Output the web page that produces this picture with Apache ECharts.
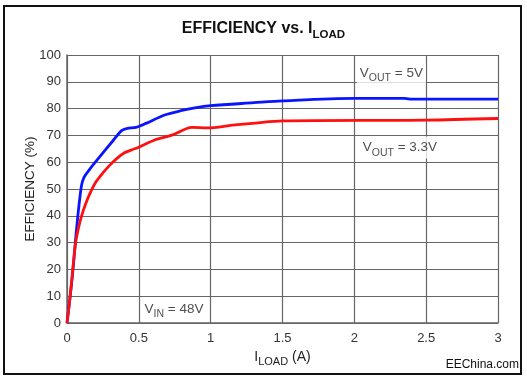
<!DOCTYPE html>
<html>
<head>
<meta charset="utf-8">
<script src="https://cdn.jsdelivr.net/npm/echarts@6/dist/echarts.min.js"></script>
<style>
  html, body { margin: 0; padding: 0; background: #fff; }
  #chart { width: 527px; height: 377px; }
</style>
</head>
<body>
<div id="chart"></div>
<script>
// ---- data ----
const xTicks = [0, 0.5, 1, 1.5, 2, 2.5, 3];
const yTicks = [0, 10, 20, 30, 40, 50, 60, 70, 80, 90, 100];

// V_OUT = 5V (blue): [I_LOAD (A), efficiency (%)]
const vout5 = [
  [0, 0], [0.02, 9], [0.04, 19], [0.07, 37], [0.1, 51], [0.12, 54.5],
  [0.16, 57.5], [0.22, 61.5], [0.32, 68], [0.38, 71.8], [0.42, 72.6],
  [0.48, 73], [0.55, 74.5], [0.68, 77.6], [0.8, 79.3], [0.9, 80.4],
  [1.0, 81.1], [1.3, 82.2], [1.5, 82.9], [2.0, 83.8], [2.35, 83.8],
  [2.4, 83.5], [3.0, 83.5]
];
// V_OUT = 3.3V (red)
const vout33 = [
  [0, 0], [0.02, 9], [0.04, 20], [0.06, 30], [0.08, 35.5], [0.1, 39.7],
  [0.13, 44.5], [0.16, 48.4], [0.2, 52.5], [0.25, 56], [0.3, 59],
  [0.35, 61.5], [0.4, 63.5], [0.45, 64.6], [0.5, 65.6], [0.61, 68.3],
  [0.73, 70.1], [0.87, 73], [0.98, 72.8], [1.15, 73.8], [1.31, 74.6],
  [1.5, 75.4], [2.5, 75.7], [3.0, 76.3]
];
// annotation texts, anchored in data coordinates
const annotationTexts = ['{m|V}{s|OUT}{m| = 5V}', '{m|V}{s|OUT}{m| = 3.3V}', '{m|V}{s|IN}{m| = 48V}'];
const annotationAt = [[2.258, 93.3], [2.317, 65.5], [0.745, 5.2]];

const FONT = "'Liberation Sans', Arial, sans-serif";
const subRich = {
  m: { fontFamily: FONT, fontSize: 13.5, color: '#222', lineHeight: 22, verticalAlign: 'middle' },
  s: { fontFamily: FONT, fontSize: 10.5, color: '#222', lineHeight: 12, verticalAlign: 'bottom' }
};

const chart = echarts.init(document.getElementById('chart'), null, { renderer: 'canvas' });
const gridColor = '#666';

chart.setOption({
  animation: false,
  backgroundColor: '#fff',
  title: {
    text: '{t|EFFICIENCY vs. I}{u|LOAD}',
    left: 'center',
    top: 12,
    textStyle: {
      rich: {
        t: { fontFamily: FONT, fontSize: 16, fontWeight: 'bold', color: '#111', lineHeight: 24, verticalAlign: 'middle' },
        u: { fontFamily: FONT, fontSize: 11.5, fontWeight: 'bold', color: '#111', lineHeight: 12, verticalAlign: 'bottom' }
      }
    }
  },
  graphic: [
    {
      type: 'rect', silent: true, z: 0,
      shape: { x: 4, y: 6, width: 517, height: 368 },
      style: { fill: 'none', stroke: '#111', lineWidth: 2 }
    },
    {
      type: 'text', right: 8, top: 359,
      style: { text: 'EEChina.com', fontFamily: FONT, fontSize: 12, fill: '#111' }
    }
  ],
  grid: { left: 67, right: 29, top: 55, bottom: 54, containLabel: false },
  xAxis: {
    type: 'value', min: 0, max: 3, interval: 0.5,
    name: '{m|I}{s|LOAD}{m| (A)}',
    nameLocation: 'middle', nameGap: 21,
    nameTextStyle: {
      rich: {
        m: { fontFamily: FONT, fontSize: 14, color: '#222', lineHeight: 22, verticalAlign: 'middle' },
        s: { fontFamily: FONT, fontSize: 11, color: '#222', lineHeight: 12, verticalAlign: 'bottom' }
      }
    },
    axisLine: { show: true, lineStyle: { color: gridColor, width: 1.5 } },
    axisTick: { show: false },
    axisLabel: {
      fontFamily: FONT, fontSize: 13, color: '#333', margin: 9,
      formatter: v => (xTicks.indexOf(v) >= 0 ? String(v) : '')
    },
    splitLine: { show: true, lineStyle: { color: gridColor, width: 1.2 } }
  },
  yAxis: {
    type: 'value', min: 0, max: 100, interval: 10,
    name: 'EFFICIENCY (%)',
    nameLocation: 'middle', nameGap: 30, nameMoveOverlap: false,
    nameTextStyle: { fontFamily: FONT, fontSize: 13.5, color: '#222' },
    axisLine: { show: true, lineStyle: { color: gridColor, width: 1.5 } },
    axisTick: { show: false },
    axisLabel: {
      fontFamily: FONT, fontSize: 13, color: '#333', margin: 6,
      formatter: v => (yTicks.indexOf(v) >= 0 ? String(v) : '')
    },
    splitLine: { show: true, lineStyle: { color: gridColor, width: 1.2 } }
  },
  series: [
    {
      name: 'VOUT = 5V', type: 'line', data: vout5, showSymbol: false,
      smooth: 0.3,
      lineStyle: { color: '#0a14ff', width: 2.8 }, z: 3
    },
    {
      name: 'VOUT = 3.3V', type: 'line', data: vout33, showSymbol: false,
      smooth: 0.3,
      lineStyle: { color: '#ff1010', width: 2.8 }, z: 3
    },
    {
      name: 'annotations', type: 'scatter', symbolSize: 0, z: 4, silent: true,
      data: annotationAt,
      label: {
        show: true, position: 'inside',
        backgroundColor: '#fff', padding: [0, 3],
        formatter: p => annotationTexts[p.dataIndex],
        rich: subRich
      }
    }
  ]
});
</script>
</body>
</html>
